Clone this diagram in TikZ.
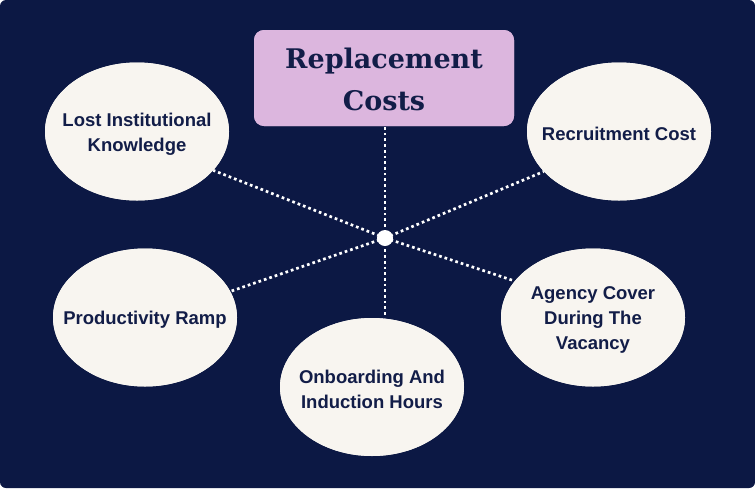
\documentclass[tikz,border=0pt]{standalone}
\usepackage{fontspec}
\setmainfont{Liberation Sans}
\newfontfamily\titlefont{DejaVu Serif}
\usetikzlibrary{shapes.geometric}
\definecolor{navy}{RGB}{12,24,68}
\definecolor{pinkbox}{RGB}{220,182,222}
\definecolor{cream}{RGB}{248,245,240}
\definecolor{inknavy}{RGB}{18,29,72}
\tikzset{
  bubble/.style={ellipse, fill=cream, draw=none, minimum width=184pt, minimum height=138pt, inner sep=0pt},
  bubbletext/.style={text=inknavy, align=center, font=\fontsize{18.5}{25}\selectfont\bfseries, inner sep=0pt, yshift=-2.5pt},
  titlebox/.style={rectangle, rounded corners=10pt, fill=pinkbox, draw=none, minimum width=260pt, minimum height=96pt, inner sep=0pt},
  titletext/.style={text=inknavy, align=center, font=\titlefont\fontsize{27}{42}\selectfont\bfseries, inner sep=0pt, yshift=-1pt},
  dotline/.style={draw=white, line width=2.7pt, dash pattern=on 2.7pt off 3pt},
  hub/.style={circle, fill=white, draw=none, minimum size=16pt, inner sep=0pt}
}
\begin{document}
\begin{tikzpicture}[x=1pt,y=-1pt]
\useasboundingbox (0,0) rectangle (755,488);
\fill[navy, rounded corners=6pt] (0,0) rectangle (755,488);
% shapes (placed first so lines can reference them; redrawn on top afterwards)
\node[bubble] (e1) at (137,131.5) {};
\node[bubble] (e2) at (619,131.5) {};
\node[bubble] (e3) at (145,317.5) {};
\node[bubble] (e4) at (372,387) {};
\node[bubble] (e5) at (593,317.5) {};
\node[titlebox] (title) at (384,78) {};
\coordinate (hubc) at (385,238);
% connectors
\draw[dotline] (hubc) -- (title.south -| hubc);
\draw[dotline] (hubc) -- (e1.-27);
\draw[dotline] (hubc) -- (e2.208);
\draw[dotline] (hubc) -- (e3.17);
\draw[dotline] (hubc) -- (e4.north -| hubc);
\draw[dotline] (hubc) -- (e5.155);
% shapes on top
\node[bubble] (b1) at (e1) {};
\node[bubble] (b2) at (e2) {};
\node[bubble] (b3) at (e3) {};
\node[bubble] (b4) at (e4) {};
\node[bubble] (b5) at (e5) {};
\node[titlebox] (tbox) at (title) {};
\node[hub] (hub) at (hubc) {};
% texts
\node[bubbletext] (t1) at (e1) {Lost Institutional\\Knowledge};
\node[bubbletext] (t2) at (e2) {Recruitment Cost};
\node[bubbletext] (t3) at (e3) {Productivity Ramp};
\node[bubbletext] (t4) at (e4) {Onboarding And\\Induction Hours};
\node[bubbletext] (t5) at (e5) {Agency Cover\\During The\\Vacancy};
\node[titletext] (tt) at (title) {Replacement\\Costs};
\end{tikzpicture}
\end{document}
